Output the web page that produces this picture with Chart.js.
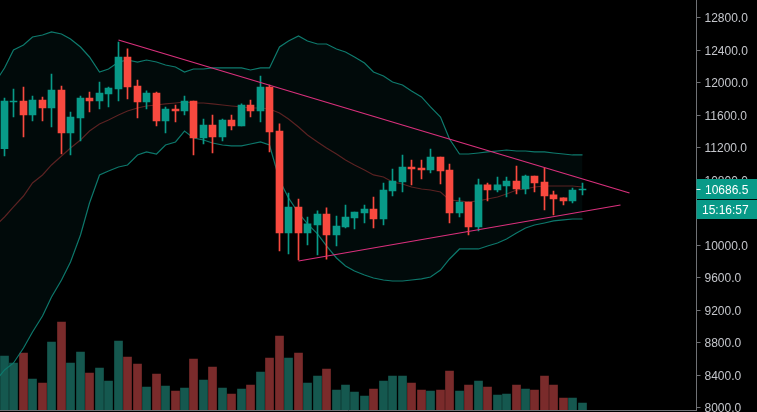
<!DOCTYPE html>
<html>
<head>
<meta charset="utf-8">
<script src="https://cdn.jsdelivr.net/npm/chart.js@4"></script>
<style>
  html, body { margin: 0; padding: 0; background: #000; overflow: hidden; }
  canvas { display: block; }
</style>
</head>
<body>
<canvas id="btcChart" width="757" height="412"></canvas>
<script>
const opens = [11192,11766,11778,11606,11791,11692,11914,11385,11569,11815,11778,11865,11926,12320,11963,11766,11877,11533,11680,11655,11778,11323,11483,11335,11545,11471,11729,11655,11951,11409,10154,10474,10154,10252,10388,10129,10228,10338,10400,10449,10326,10671,10781,10966,10954,10929,11089,10929,10400,10535,10228,10745,10683,10732,10794,10695,10855,10781,10622,10585,10548,10683];
const highs = [11815,11926,11951,11840,11828,12111,11963,11643,11840,11889,12012,11951,12505,12419,12037,11902,11889,11705,11729,11840,11778,11557,11606,11557,11606,11742,11791,12086,11975,11496,10646,10572,10351,10425,10462,10363,10498,10412,10498,10597,10769,10941,11114,11052,11052,11188,11089,11003,10585,10535,10818,10769,10843,10843,10978,10868,10855,10954,10671,10585,10708,10769];
const lows = [11101,11581,11335,11533,11533,11459,11126,11114,11286,11643,11680,11705,11778,11803,11569,11680,11471,11385,11520,11606,11114,11249,11138,11286,11422,11471,11581,11520,11151,9932,9895,9821,10006,9883,9833,9994,10215,10203,10277,10215,10252,10609,10658,10745,10818,10892,10757,10277,10351,10129,10178,10548,10658,10597,10634,10634,10658,10437,10375,10498,10523,10622];
const closes = [11778,11778,11606,11791,11692,11914,11385,11581,11815,11778,11877,11938,12320,11951,11766,11877,11533,11680,11655,11778,11323,11483,11335,11545,11471,11729,11655,11951,11397,10154,10474,10154,10265,10388,10129,10240,10351,10412,10449,10326,10683,10794,10966,10941,10929,11089,10917,10400,10535,10228,10745,10683,10745,10794,10695,10855,10769,10609,10572,10548,10683,10686.5];
const volumes = [54,47,57,31,27,68,88,47,58,37,42,29,69,53,46,23,36,24,19,22,51,30,43,22,16,21,25,38,52,74,52,57,27,34,41,20,25,18,14,21,29,34,34,27,20,19,20,39,19,25,29,23,15,16,25,21,20,34,25,12,12,7];
// the bands start one candle left of the visible candles, they run off the left edge
const bbUpper = [12012,12185,12406,12468,12566,12591,12628,12603,12542,12443,12320,12135,12172,12258,12283,12258,12283,12258,12221,12197,12135,12172,12172,12185,12185,12185,12185,12160,12185,12185,12443,12517,12578,12517,12480,12480,12418,12382,12320,12246,12135,12086,12012,11975,11901,11828,11705,11581,11311,11126,11126,11138,11151,11163,11175,11163,11163,11151,11151,11138,11126,11114,11114];
const bbMiddle = [10240,10351,10474,10609,10769,10868,10991,11101,11200,11298,11409,11495,11545,11606,11655,11692,11717,11729,11742,11754,11766,11754,11754,11742,11729,11717,11705,11692,11692,11680,11631,11557,11458,11360,11274,11200,11126,11052,10991,10929,10868,10843,10781,10757,10720,10695,10683,10658,10560,10548,10535,10548,10572,10597,10634,10683,10695,10720,10732,10732,10732,10732,10720];
const bbLower = [8332,8468,8554,8738,8935,9132,9366,9575,9797,10129,10523,10868,10917,10966,10991,11114,11151,11126,11237,11274,11409,11323,11298,11261,11237,11225,11225,11249,11274,11237,10806,10585,10400,10265,10142,9994,9846,9748,9686,9637,9600,9575,9563,9563,9575,9588,9612,9698,9834,9957,9957,9957,9994,10031,10080,10154,10215,10252,10277,10302,10314,10326,10326];
const trendDown = [[12, 12529], [66, 10646]];
const trendUp = [[31, 9809], [65, 10498]];
const priceTicks = [8000,8400,8800,9200,9600,10000,10400,10800,11200,11600,12000,12400,12800];
const lastPrice = 10686.5;
const countdown = "15:16:57";

const UP = "#089a88", DOWN = "#f8493f";
const UP_VOL = "#15584f", DOWN_VOL = "#7a2b2b";
const AXIS = "#6f7175", TICK_TEXT = "#c4c6cb";
const FONT = '"Liberation Sans", Arial, sans-serif';

const isUp = opens.map((o, i) => closes[i] >= o);
const idx = arr => arr.map((v, i) => ({ x: i, y: v }));
const bandPts = arr => arr.map((v, i) => ({ x: i - 1, y: v }));
const pts = arr => arr.map(p => ({ x: p[0], y: p[1] }));

// price tag and countdown on the right axis
const priceTags = {
    id: "priceTags",
    afterDraw(chart) {
        const ctx = chart.ctx, y = chart.scales.y, left = chart.chartArea.right;
        const py = Math.floor(y.getPixelForValue(lastPrice));
        ctx.save();
        ctx.fillStyle = UP;
        ctx.fillRect(left, py - 10, 757 - left, 20);
        ctx.fillRect(left, py + 11, 757 - left, 19);
        ctx.fillStyle = "#fff";
        ctx.fillRect(left, py, 4, 1);
        ctx.font = "12px " + FONT;
        ctx.textBaseline = "middle";
        ctx.textAlign = "left";
        ctx.fillText(lastPrice.toFixed(1), 705, py + 2);
        ctx.fillText(countdown, 702, py + 22);
        ctx.restore();
    }
};

new Chart(document.getElementById("btcChart"), {
    data: {
        datasets: [
            { type: "line", data: pts(trendDown), borderColor: "#d9307c", borderWidth: 1.2, pointRadius: 0, order: 0 },
            { type: "line", data: pts(trendUp), borderColor: "#d9307c", borderWidth: 1.2, pointRadius: 0, order: 0 },
            { type: "bar", data: idx(opens.map((o, i) => [o, closes[i]])), backgroundColor: isUp.map(u => u ? UP : DOWN), barThickness: 7, grouped: false, minBarLength: 1, order: 1 },
            { type: "bar", data: idx(lows.map((l, i) => [l, highs[i]])), backgroundColor: isUp.map(u => u ? UP : DOWN), barThickness: 1, grouped: false, order: 2 },
            { type: "line", data: bandPts(bbMiddle), borderColor: "#5a2222", borderWidth: 1.2, pointRadius: 0, order: 3 },
            { type: "line", data: bandPts(bbUpper), borderColor: "#0e7a6d", borderWidth: 1.2, pointRadius: 0, fill: "+1", backgroundColor: "rgba(8,80,80,0.12)", order: 3 },
            { type: "line", data: bandPts(bbLower), borderColor: "#0e7a6d", borderWidth: 1.2, pointRadius: 0, order: 3 },
            { type: "bar", data: idx(volumes), yAxisID: "yVol", backgroundColor: isUp.map(u => u ? UP_VOL : DOWN_VOL), barThickness: 8, grouped: false, order: 4 }
        ]
    },
    options: {
        responsive: false,
        animation: false,
        events: [],
        layout: { padding: { bottom: 2 } },
        plugins: { legend: { display: false }, tooltip: { enabled: false } },
        scales: {
            x: {
                type: "linear",
                min: -0.475,
                max: 73.05,
                offset: false,
                afterFit(scale) { scale.height = 0; scale.paddingLeft = 0; scale.paddingRight = 0; },
                grid: { display: false },
                ticks: { display: false },
                border: { display: true, color: AXIS },
                afterUpdate(scale) {
                    // keep candles on whole pixels
                    const raw = scale.getPixelForValue.bind(scale);
                    scale.getPixelForValue = v => Math.floor(raw(v)) + 0.5;
                }
            },
            y: {
                position: "right",
                min: 7975,
                max: 13021.5,
                afterFit(scale) { scale.width = 60.5; scale.paddingTop = 0; scale.paddingBottom = 0; },
                afterBuildTicks(scale) { scale.ticks = priceTicks.map(v => ({ value: v })); },
                grid: { drawOnChartArea: false, tickLength: 4, tickColor: AXIS, tickWidth: 1 },
                border: { color: AXIS },
                ticks: {
                    autoSkip: false,
                    padding: 4,
                    labelOffset: 1,
                    color: TICK_TEXT,
                    font: { family: FONT, size: 12 },
                    callback: v => v.toFixed(1)
                }
            },
            yVol: { display: false, min: 0, max: 410 }
        }
    },
    plugins: [priceTags]
});
</script>
</body>
</html>
